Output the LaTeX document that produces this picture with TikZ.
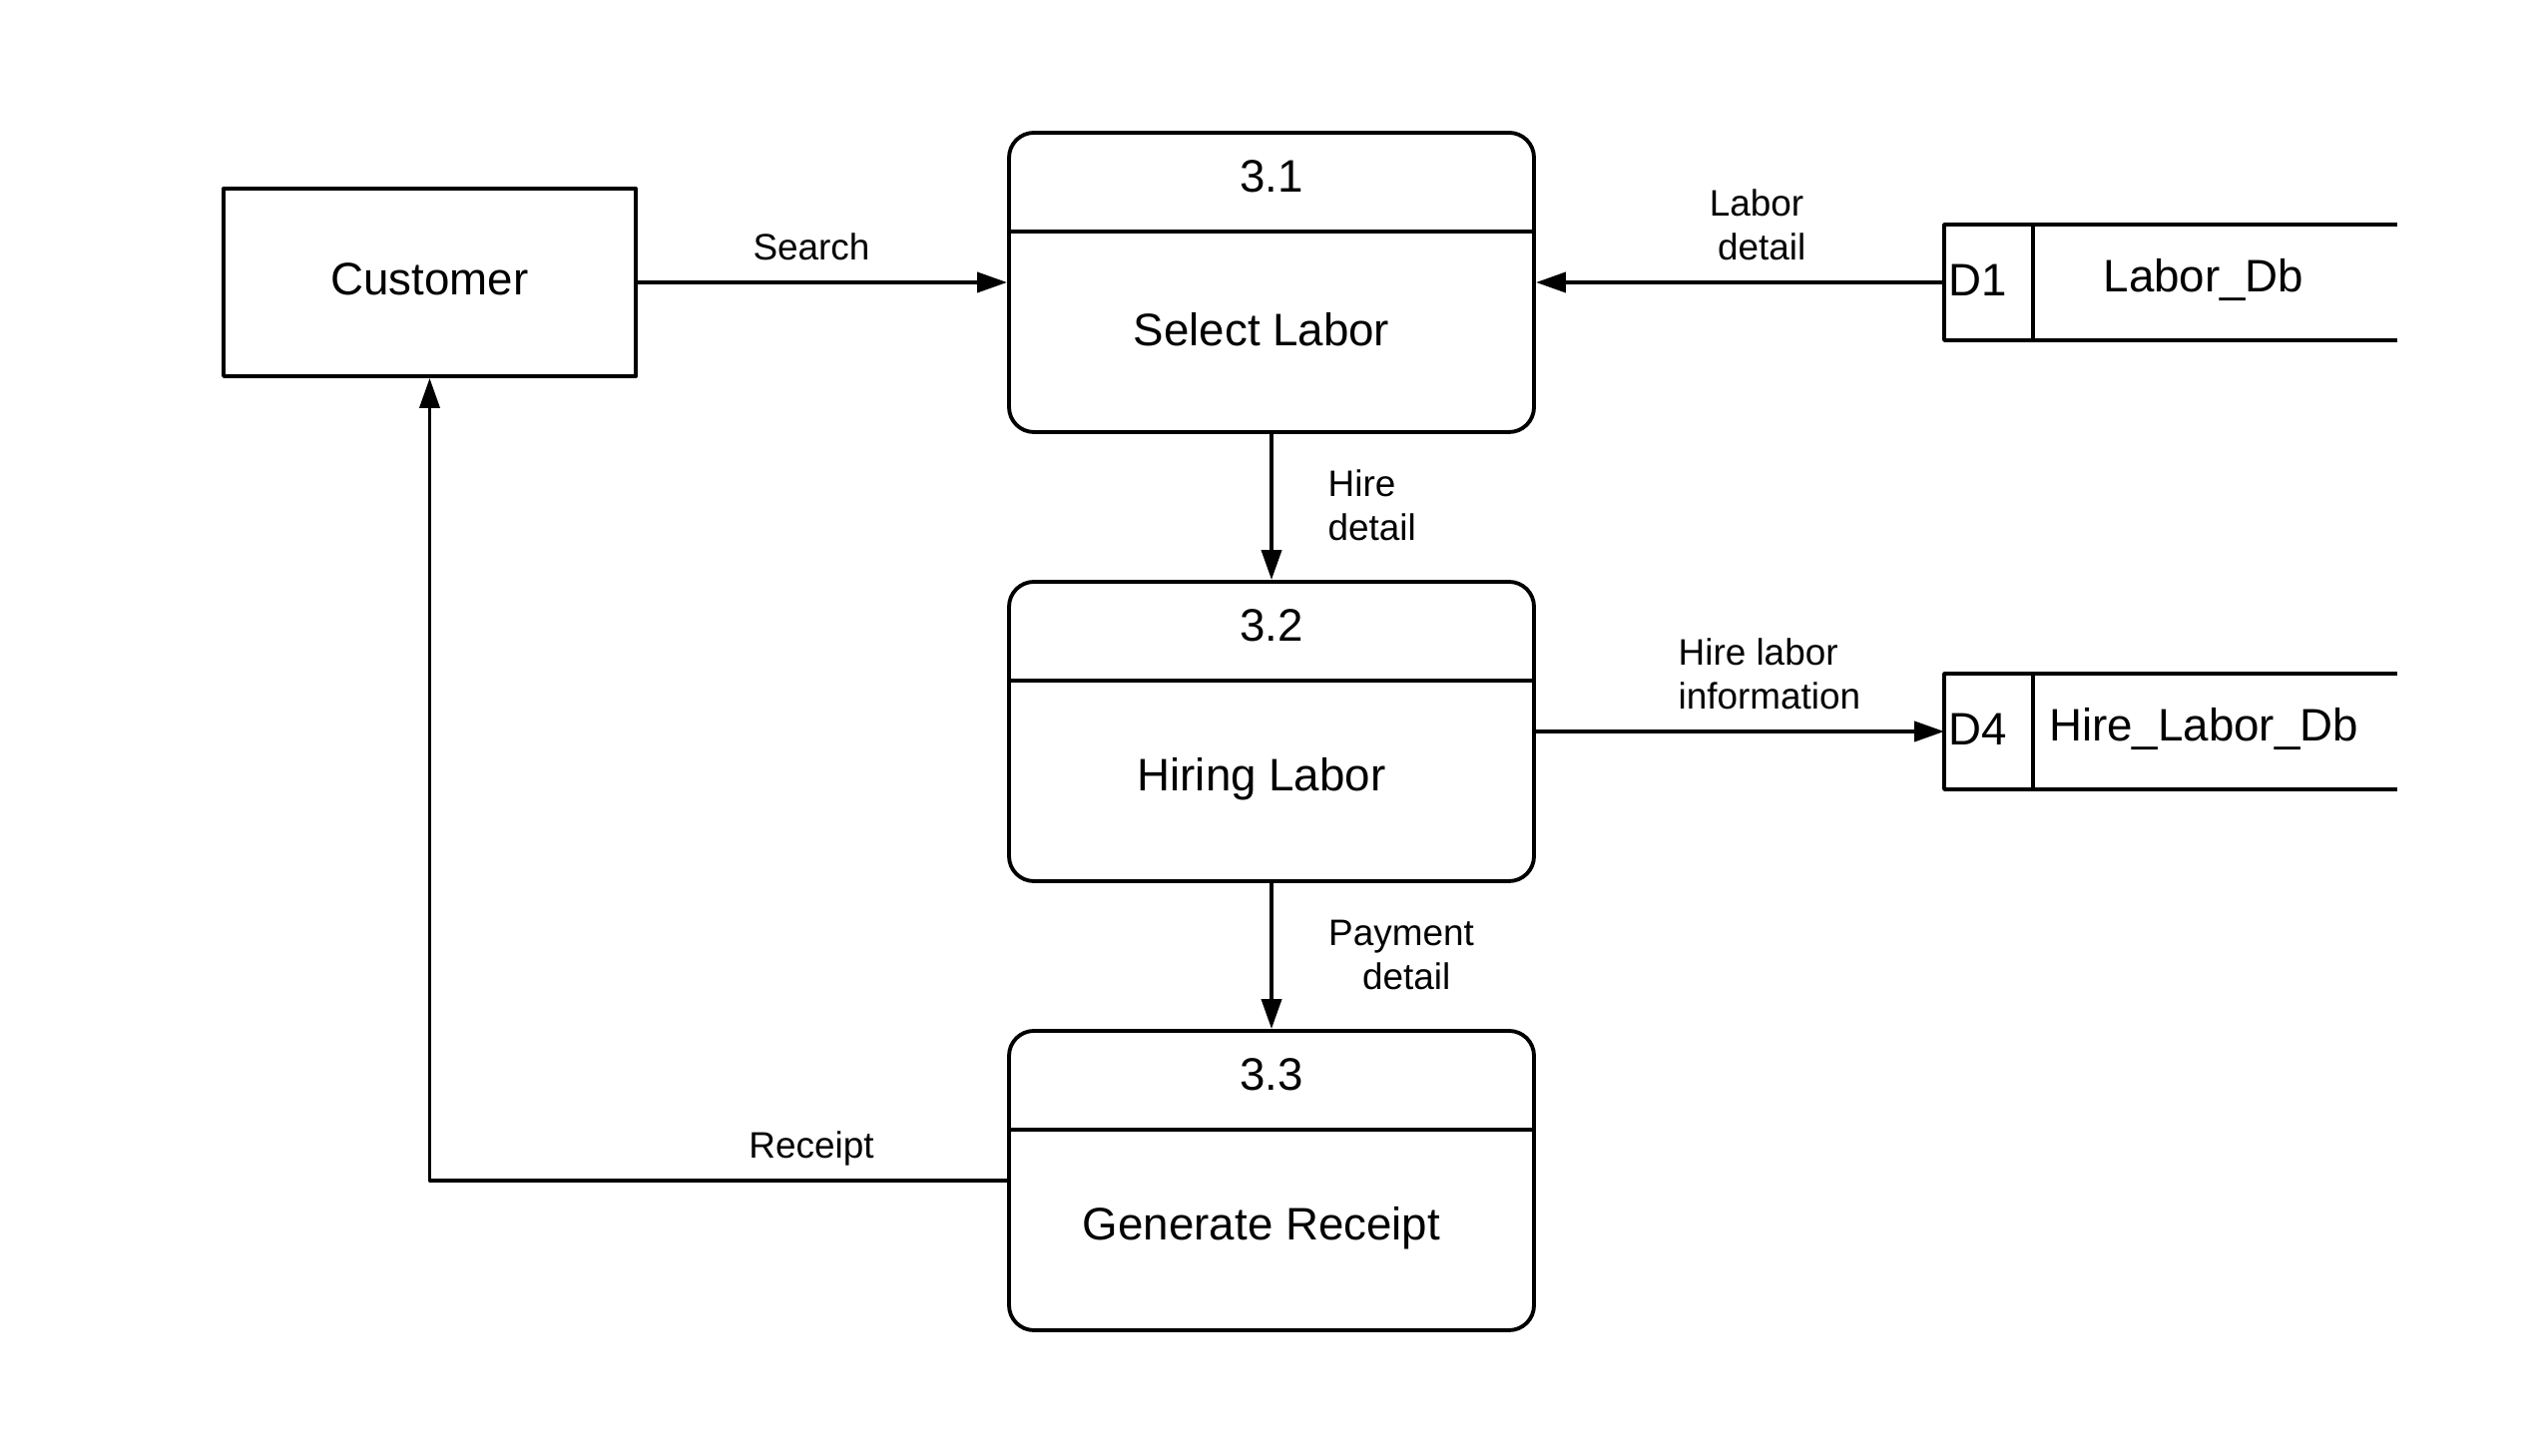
\documentclass[tikz,border=0pt]{standalone}
\usepackage{fontspec}
\setmainfont{Liberation Sans}
\usetikzlibrary{arrows.meta,calc}
\tikzset{
    big/.style={
        font=\fontsize{13}{16}\selectfont
    },
    lbl/.style={
        font=\fontsize{10.5}{12.6}\selectfont, align=left
    },
    procbox/.style={
        draw, rounded corners=0.25cm, minimum width=5.26cm, minimum height=3cm
    },
    flow/.style={
        -{Triangle[length=0.3cm,width=0.2cm]}
    }
}

\begin{document}
\begin{tikzpicture}[line width=1.1pt, line cap=butt, line join=round]

\useasboundingbox (0,0) rectangle (25.5,14.59);

\def\px{12.74}
\def\sx{21.75}

% external entity
\node[draw, big, minimum width=4.13cm, minimum height=1.88cm] (cust) at (4.305,11.76) {};
\node[big] (ct) at (4.305,11.79) {Customer};

% processes
\foreach \n/\y/\t in {1/11.76/Select Labor, 2/7.26/Hiring Labor, 3/2.76/Generate Receipt} {
  \node[procbox] (p\n) at (\px,\y) {};
  \draw ($(p\n.north west)+(0,-1.01)$) -- ($(p\n.north east)+(0,-1.01)$);
  \node[big] (h\n) at (\px,\y+1.06) {3.\n};
  \node[big] (t\n) at (\px-0.1,\y-0.475) {\t};
}

% data stores
\foreach \d/\y/\t in {1/11.76/Labor\_Db, 4/7.26/Hire\_Labor\_Db} {
  \node[minimum width=4.5cm, minimum height=1.12cm] (d\d) at (\sx,\y) {};
  \draw (d\d.north east) -- (d\d.north west) -- (d\d.south west) -- (d\d.south east);
  \draw ($(d\d.north west)+(0.89,0)$) -- ($(d\d.south west)+(0.89,0)$);
  \node[big] (k\d) at ($(d\d.west)+(0.34,0.02)$) {D\d};
  \node[big] (n\d) at ($(d\d.center)+(0.33,0.02)$) {\t};
}

% flows
\draw[flow] (cust.east) -- (p1.west);
\draw[flow] (d1.west) -- (p1.east);
\draw[flow] (p1.south) -- (p2.north);
\draw[flow] (p2.east) -- (d4.west);
\draw[flow] (p2.south) -- (p3.north);
\draw[flow] (p3.west) -| (cust.south);

% flow labels
\node[lbl] (ls) at (8.13,12.12) {Search};
\node[lbl, align=center] (ll) at (17.6,12.34) {Labor\\ \ detail};
\node[lbl, anchor=west] (lh) at (13.17,9.53) {Hire\\detail};
\node[lbl, anchor=west] (li) at (16.68,7.84) {Hire labor\\information};
\node[lbl, align=center] (lp) at (14.04,5.02) {Payment\\ \ detail};
\node[lbl] (lr) at (8.13,3.08) {Receipt};

\end{tikzpicture}
\end{document}
